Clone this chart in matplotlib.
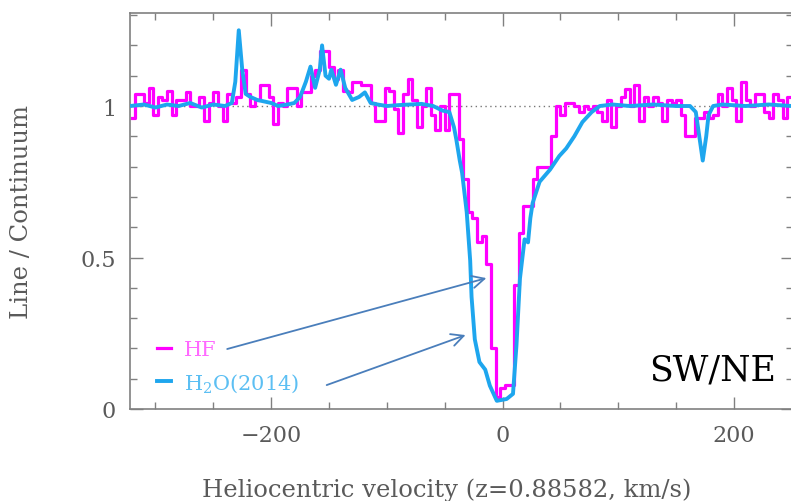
import numpy as np
import matplotlib
matplotlib.use("Agg")
import matplotlib.pyplot as plt
from matplotlib.ticker import MultipleLocator

# HF spectrum, 4 km/s channels starting at -320 km/s
hf_start, hf_step = -320, 4
hf_flux = [
    0.96, 1.04, 1.04, 1.01, 1.06, 0.97, 1.03, 1.02, 1.05, 0.97,
    1.02, 1.02, 1.045, 1.00, 1.00, 1.03, 0.95, 1.01, 1.045, 1.00,
    0.95, 1.04, 1.01, 1.03, 1.12, 1.04, 1.00, 1.02, 1.07, 1.07,
    1.03, 0.94, 1.01, 1.00, 1.06, 1.06, 1.00, 1.045, 1.045, 1.10,
    1.12, 1.18, 1.18, 1.13, 1.09, 1.12, 1.05, 1.045, 1.08, 1.08,
    1.07, 1.07, 1.01, 0.95, 0.95, 1.06, 1.05, 0.99, 0.91, 1.04,
    1.09, 1.02, 0.93, 1.00, 1.06, 0.97, 0.92, 1.00, 0.92, 1.04,
    1.04, 0.89, 0.76, 0.65, 0.63, 0.55, 0.57, 0.48, 0.20, 0.04,
    0.07, 0.08, 0.08, 0.41, 0.58, 0.67, 0.67, 0.76, 0.80, 0.80,
    0.80, 0.90, 1.00, 0.97, 1.01, 1.01, 1.00, 0.98, 1.00, 0.99,
    1.00, 0.98, 0.95, 1.02, 0.93, 1.00, 1.03, 1.056, 1.00, 1.07,
    0.95, 1.03, 1.00, 1.03, 1.01, 0.95, 1.02, 1.01, 1.02, 0.97,
    0.90, 0.90, 0.96, 0.96, 0.98, 0.96, 0.97, 1.04, 1.00, 1.06,
    1.02, 0.95, 1.08, 1.02, 1.00, 1.04, 1.04, 0.98, 0.96, 1.04,
    1.02, 0.96, 1.03,
]
hf_vel = hf_start + hf_step * np.arange(len(hf_flux))

# H2O (2014) spectrum
h2o_vel = [
    -322, -310, -300, -290, -280, -270, -260, -250, -240, -234,
    -231, -228, -225, -222, -218, -212, -206, -200, -194, -186,
    -180, -175, -170, -166, -162, -158, -156, -153, -150, -148,
    -144, -140, -136, -130, -124, -119, -114, -108, -100, -90,
    -80, -70, -60, -52, -46, -42, -40, -37, -35, -31,
    -28, -26.8, -24, -20, -15, -11, -5, 3.5, 9, 12,
    15, 19, 22, 24, 26, 32, 41, 49, 55, 62,
    69, 77, 84, 95, 110, 130, 150, 162, 167, 170,
    173, 176, 178, 182, 190, 210, 230, 250,
]
h2o_flux = [
    1.00, 1.005, 0.995, 1.005, 1.00, 1.01, 0.995, 1.005, 1.00, 1.01,
    1.08, 1.25, 1.12, 1.04, 1.03, 1.02, 1.015, 1.01, 1.00, 1.005,
    1.01, 1.03, 1.08, 1.13, 1.06, 1.12, 1.20, 1.10, 1.09, 1.12,
    1.07, 1.12, 1.06, 1.02, 1.03, 1.045, 1.01, 1.005, 1.00, 1.003,
    1.005, 1.007, 1.00, 0.985, 0.98, 0.93, 0.89, 0.82, 0.78, 0.65,
    0.49, 0.37, 0.23, 0.155, 0.13, 0.077, 0.027, 0.033, 0.05, 0.21,
    0.43, 0.56, 0.55, 0.63, 0.68, 0.75, 0.79, 0.835, 0.86, 0.90,
    0.947, 0.98, 1.00, 1.005, 1.00, 1.005, 1.00, 1.00, 0.98, 0.90,
    0.82, 0.90, 0.97, 1.00, 1.005, 1.00, 1.005, 1.00,
]

# annotation arrows: (tail, head) in data coordinates
arrow_hf = ((-238, 0.198), (-14, 0.432))
arrow_h2o = ((-152, 0.079), (-32, 0.244))

HF_COLOR = "#ff00ff"
H2O_COLOR = "#1ea6ee"
HF_TEXT = "#ff6aff"
H2O_TEXT = "#5cbff3"
AX_COLOR = "#808080"
TXT_COLOR = "#5a5a5a"

plt.rcParams["font.family"] = ["DejaVu Serif"]
plt.rcParams["mathtext.fontset"] = "dejavuserif"

fig = plt.figure(figsize=(7.91, 5.02), dpi=100)
ax = fig.add_axes([130 / 791, 1 - 410 / 502, 663 / 791, 396 / 502])

ax.axhline(1.0, color="#777777", ls=(0, (1, 2.5)), lw=1.0, zorder=1)
ax.plot(hf_vel, hf_flux, drawstyle="steps-mid", color=HF_COLOR, lw=2.3,
        label="HF", zorder=2)
ax.plot(h2o_vel, h2o_flux, color=H2O_COLOR, lw=2.8,
        label=r"H$_2$O(2014)", zorder=3)

ax.set_xlim(-322, 251)
ax.set_ylim(0, 1.307)

ax.xaxis.set_major_locator(MultipleLocator(200))
ax.xaxis.set_minor_locator(MultipleLocator(50))
ax.yaxis.set_minor_locator(MultipleLocator(0.1))
ax.set_yticks([0, 0.5, 1])
ax.set_yticklabels(["0", "0.5", "1"])

ax.tick_params(which="both", direction="in", top=True, right=True,
               color=AX_COLOR, width=1.0, labelcolor=TXT_COLOR, labelsize=16)
ax.tick_params(which="major", length=9)
ax.tick_params(which="minor", length=5)
ax.tick_params(axis="x", pad=11)
ax.tick_params(axis="y", pad=10)
for sp in ax.spines.values():
    sp.set_color(AX_COLOR)
    sp.set_linewidth(1.2)

ax.set_xlabel("Heliocentric velocity (z=0.88582, km/s)", fontsize=17.5,
              color=TXT_COLOR)
ax.set_ylabel("Line / Continuum", fontsize=17.5, color=TXT_COLOR)
ax.xaxis.set_label_coords(0.477, -0.172)
ax.yaxis.set_label_coords(-0.147, 0.5)

ax.text(0.974, 0.10, "SW/NE", transform=ax.transAxes, ha="right",
        va="center", fontsize=25, color="black")

leg = ax.legend(loc="lower left", bbox_to_anchor=(0.028, 0.018),
                borderaxespad=0, frameon=False, fontsize=15,
                handlelength=0.7, handletextpad=0.6, labelspacing=0.55)
for txt, col in zip(leg.get_texts(), (HF_TEXT, H2O_TEXT)):
    txt.set_color(col)

for tail, head in (arrow_hf, arrow_h2o):
    ax.annotate("", xy=head, xytext=tail,
                arrowprops=dict(arrowstyle="->", color="#4a7ebb", lw=1.3,
                                mutation_scale=22, shrinkA=0, shrinkB=0))

fig.savefig("out.png", dpi=100)
